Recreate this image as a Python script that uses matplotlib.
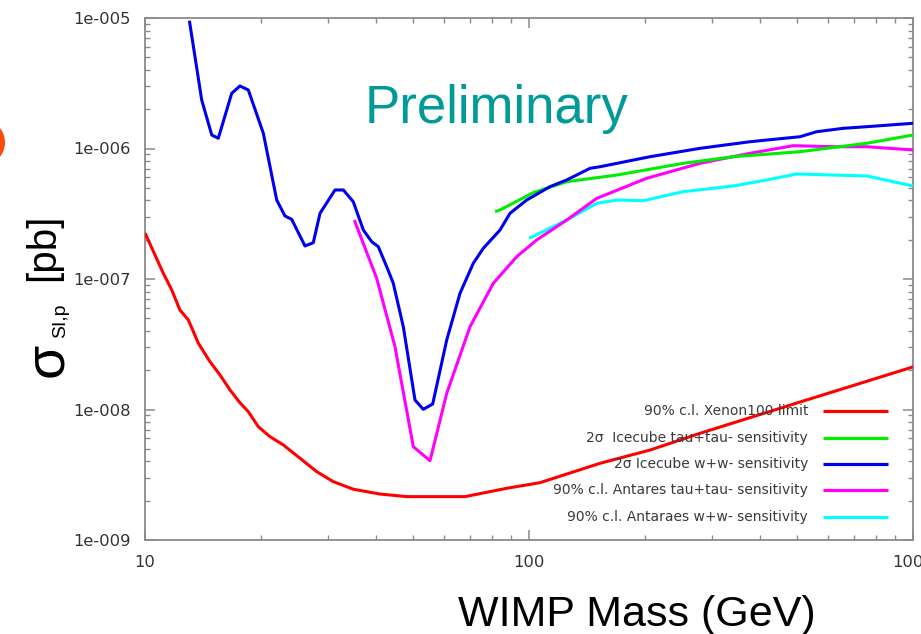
import numpy as np
import matplotlib
matplotlib.use("Agg")
import matplotlib.pyplot as plt
from matplotlib.ticker import LogLocator, FixedLocator, FuncFormatter, NullFormatter
from matplotlib.patches import Ellipse

# ---- data: WIMP mass (GeV) vs spin-independent cross section (pb) ----
xenon_mass = [10, 11.16, 11.74, 12.33, 12.97, 13.77, 14.77, 15.68, 16.65, 17.67,
              18.58, 19.73, 21.16, 22.92, 25.33, 28.0, 30.93, 34.86, 40.93, 48.03,
              58.65, 68.13, 87.49, 106.8, 153.1, 206.6, 278.8, 507.8, 1000]
xenon_xs = [2.25e-7, 1.106e-7, 8.24e-8, 5.79e-8, 4.85e-8, 3.22e-8, 2.32e-8, 1.838e-8,
            1.411e-8, 1.127e-8, 9.62e-9, 7.38e-9, 6.19e-9, 5.35e-9, 4.23e-9, 3.34e-9,
            2.80e-9, 2.45e-9, 2.25e-9, 2.15e-9, 2.15e-9, 2.15e-9, 2.49e-9, 2.75e-9,
            3.87e-9, 4.89e-9, 6.57e-9, 1.141e-8, 2.12e-8]

ic_tau_mass = [81.56, 84.05, 102.6, 125.4, 169.2, 252.2, 340.4, 507.8, 757.5, 1000]
ic_tau_xs = [3.28e-7, 3.38e-7, 4.59e-7, 5.57e-7, 6.26e-7, 7.70e-7, 8.65e-7, 9.45e-7,
             1.096e-6, 1.269e-6]

ic_ww_mass = [13.05, 14.05, 14.92, 15.52, 16.82, 17.67, 18.58, 20.33, 22.03, 23.15,
              24.10, 26.10, 27.43, 28.56, 31.25, 32.85, 34.86, 37.03, 38.94, 40.51,
              42.60, 44.32, 47.06, 50.48, 53.05, 56.13, 61.06, 66.12, 71.60, 76.03,
              84.05, 89.23, 98.63, 113.4, 125.4, 144.2, 153.1, 206.6, 278.8, 376.3,
              507.8, 561.4, 658.2, 757.5, 1000]
ic_ww_xs = [9.53e-6, 2.353e-6, 1.269e-6, 1.198e-6, 2.649e-6, 3.013e-6, 2.808e-6,
            1.308e-6, 4.03e-7, 3.04e-7, 2.867e-7, 1.79e-7, 1.897e-7, 3.187e-7,
            4.81e-7, 4.81e-7, 3.91e-7, 2.374e-7, 1.931e-7, 1.768e-7, 1.243e-7,
            9.27e-8, 4.31e-8, 1.182e-8, 1.003e-8, 1.102e-8, 3.41e-8, 7.77e-8,
            1.319e-7, 1.719e-7, 2.374e-7, 3.187e-7, 4.03e-7, 5.10e-7, 5.74e-7,
            7.05e-7, 7.25e-7, 8.65e-7, 1.003e-6, 1.127e-6, 1.231e-6, 1.345e-6,
            1.428e-6, 1.469e-6, 1.560e-6]

ant_tau_mass = [35.08, 40.12, 44.77, 49.97, 55.23, 61.06, 70.21, 80.72, 92.90, 104.7,
                125.4, 150.1, 202.5, 278.8, 376.3, 487.9, 620.0, 757.5, 1000]
ant_tau_xs = [2.83e-7, 1.012e-7, 3.03e-8, 5.19e-9, 4.05e-9, 1.331e-8, 4.31e-8, 9.27e-8,
              1.483e-7, 1.99e-7, 2.83e-7, 4.15e-7, 5.91e-7, 7.70e-7, 9.19e-7, 1.051e-6,
              1.032e-6, 1.032e-6, 9.74e-7]

ant_ww_mass = [100, 125.4, 150.1, 169.2, 198.5, 252.2, 340.4, 415.9, 498.0, 620.0,
               757.5, 1000]
ant_ww_xs = [2.05e-7, 2.83e-7, 3.80e-7, 4.03e-7, 3.98e-7, 4.67e-7, 5.16e-7, 5.74e-7,
             6.38e-7, 6.26e-7, 6.16e-7, 5.16e-7]

series_labels = ["90% c.l. Xenon100 limit",
                 "2\u03c3  Icecube tau+tau- sensitivity",
                 "2\u03c3 Icecube w+w- sensitivity",
                 "90% c.l. Antares tau+tau- sensitivity",
                 "90% c.l. Antaraes w+w- sensitivity"]
series_colors = ["#ff0000", "#00ee00", "#0000ee", "#ff00ff", "#00ffff"]

x_ticks = [10, 100, 1000]
y_ticks = [1e-9, 1e-8, 1e-7, 1e-6, 1e-5]

# ---- figure ----
W, H = 921, 634
fig = plt.figure(figsize=(W / 100, H / 100), dpi=100)
ax = fig.add_axes([145 / W, 1 - 540 / H, 768 / W, 522 / H])

series = [(xenon_mass, xenon_xs), (ic_tau_mass, ic_tau_xs), (ic_ww_mass, ic_ww_xs),
          (ant_tau_mass, ant_tau_xs), (ant_ww_mass, ant_ww_xs)]
draw_order = [4, 3, 1, 2, 0]
for i in draw_order:
    m, s = series[i]
    ax.plot(m, s, color=series_colors[i], lw=2.2, solid_joinstyle="round",
            solid_capstyle="butt", zorder=3 + (i == 0))

ax.set_xscale("log")
ax.set_yscale("log")
ax.set_xlim(10, 1000)
ax.set_ylim(1e-9, 1e-5)

ax.xaxis.set_major_locator(FixedLocator(x_ticks))
ax.xaxis.set_minor_locator(LogLocator(base=10, subs=np.arange(2, 10)))
ax.xaxis.set_major_formatter(FuncFormatter(lambda v, p: f"{v:g}"))
ax.xaxis.set_minor_formatter(NullFormatter())
ax.yaxis.set_major_locator(FixedLocator(y_ticks))
ax.yaxis.set_minor_locator(LogLocator(base=10, subs=np.arange(2, 10), numticks=20))
ax.yaxis.set_major_formatter(
    FuncFormatter(lambda v, p: f"1e-{-int(round(np.log10(v))):03d}"))
ax.yaxis.set_minor_formatter(NullFormatter())

ax.tick_params(which="both", direction="in", top=True, right=True,
               color="#8a8a8a", labelcolor="#333333", labelsize=11.8,
               labelfontfamily="DejaVu Sans")
ax.tick_params(which="major", length=7, width=1.1)
ax.tick_params(which="minor", length=3.5, width=1.0)
ax.tick_params(axis="x", which="major", pad=11)
ax.tick_params(axis="y", which="major", pad=10)
for sp in ax.spines.values():
    sp.set_color("#8a8a8a")
    sp.set_linewidth(1.3)

# ---- legend (text right-aligned, sample line to the right) ----
def ax_x(px):
    return (px - 145) / 768

def ax_y(py):
    return (540 - py) / 522

rows = [411, 437.7, 464, 490, 516.7]
for lab, col, row in zip(series_labels, series_colors, rows):
    ax.text(ax_x(808), ax_y(row), lab, transform=ax.transAxes, ha="right",
            va="center", fontsize=10, color="#3a3a3a", family="DejaVu Sans",
            zorder=5)
    ax.plot([ax_x(823), ax_x(888)], [ax_y(row), ax_y(row)], transform=ax.transAxes,
            color=col, lw=2.3, solid_capstyle="butt", zorder=5)

# ---- annotations and axis titles ----
fig.text(365 / W, 1 - 123 / H, "Preliminary", color="#009a99", fontsize=38,
         family="Liberation Sans", ha="left", va="baseline")
fig.text(637 / W, 1 - 626 / H, "WIMP Mass (GeV)", color="black", fontsize=31,
         family="Liberation Sans", ha="center", va="baseline")

ylab_kw = dict(rotation=90, rotation_mode="anchor", ha="left", va="baseline",
               color="black", family="Liberation Sans")
fig.text(62 / W, 1 - 377 / H, "\u03c3", fontsize=40, **ylab_kw)
fig.text(65 / W, 1 - 338 / H, "SI,p", fontsize=14, **ylab_kw)
fig.text(54 / W, 1 - 281 / H, "[pb]", fontsize=29, **ylab_kw)

# orange bullet at the left margin
r = 23.5
fig.add_artist(Ellipse((-18.5 / W, 1 - 142.5 / H), 2 * r / W, 2 * r / H,
                       transform=fig.transFigure, color="#ff4a0a", lw=0))

fig.savefig("out.png", dpi=100)
